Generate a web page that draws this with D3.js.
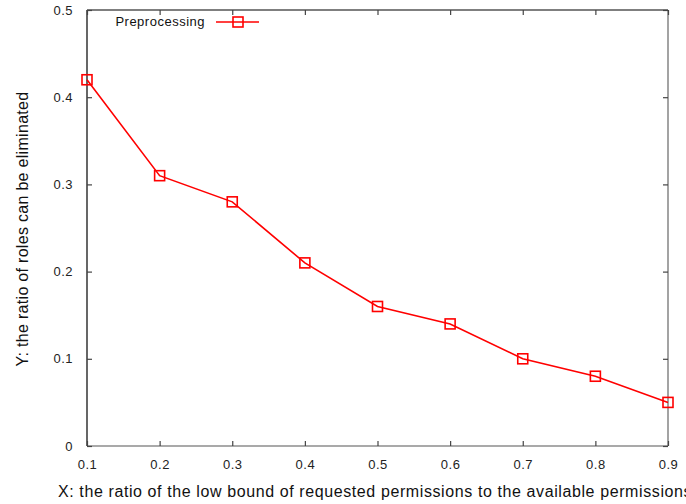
<!DOCTYPE html>
<html>
<head>
<meta charset="utf-8">
<script src="https://cdn.jsdelivr.net/npm/d3@7"></script>
<style>
  html, body { margin: 0; padding: 0; background: #fff; overflow: hidden; }
  svg { display: block; font-family: "Liberation Sans", Arial, sans-serif; }
</style>
</head>
<body>
<svg id="chart" width="686" height="504"></svg>
<script>
// Ratio of the low bound of requested permissions
const xValues = [0.1, 0.2, 0.3, 0.4, 0.5, 0.6, 0.7, 0.8, 0.9];
// Ratio of roles that can be eliminated after preprocessing
const preprocessing = [0.42, 0.31, 0.28, 0.21, 0.16, 0.14, 0.10, 0.08, 0.05];
const xTicks = [0.1, 0.2, 0.3, 0.4, 0.5, 0.6, 0.7, 0.8, 0.9];
const yTicks = [0, 0.1, 0.2, 0.3, 0.4, 0.5];
const seriesName = "Preprocessing";

const svg = d3.select("#chart");
const m = { left: 87, top: 10, right: 668, bottom: 446 };
const x = d3.scaleLinear().domain([0.1, 0.9]).range([m.left, m.right]);
const y = d3.scaleLinear().domain([0, 0.5]).range([m.bottom, m.top]);
const red = "#ff0000";
const tickLen = 5;

// Frame
const frame = svg.append("g");
frame.append("line").attr("x1", m.left).attr("x2", m.right).attr("y1", m.bottom).attr("y2", m.bottom).attr("stroke", "#555").attr("stroke-width", 1.2);
frame.append("line").attr("x1", m.right).attr("x2", m.right).attr("y1", m.top).attr("y2", m.bottom).attr("stroke", "#666").attr("stroke-width", 1.2);
frame.append("line").attr("x1", m.left).attr("x2", m.right).attr("y1", m.top).attr("y2", m.top).attr("stroke", "#000").attr("stroke-width", 1.2);
frame.append("line").attr("x1", m.left).attr("x2", m.left).attr("y1", m.top).attr("y2", m.bottom).attr("stroke", "#000").attr("stroke-width", 1.2);

// Inward ticks on all four sides
const bottomAxis = d3.axisBottom(x).tickValues(xTicks).tickSize(-tickLen).tickPadding(14).tickFormat(d3.format(".1f"));
const topAxis = d3.axisTop(x).tickValues(xTicks).tickSize(-tickLen).tickFormat("");
const leftAxis = d3.axisLeft(y).tickValues(yTicks).tickSize(-tickLen).tickPadding(14).tickFormat(d => d === 0 ? "0" : d3.format(".1f")(d));
const rightAxis = d3.axisRight(y).tickValues(yTicks).tickSize(-tickLen).tickFormat("");

function styleAxis(g) {
  g.select(".domain").remove();
  g.selectAll(".tick line").attr("stroke", "#444").attr("stroke-width", 1.2);
  g.selectAll(".tick text").attr("fill", "#222")
    .style("font-size", "13px")
    .style("letter-spacing", "0.5px")
    .style("font-family", "Liberation Sans, Arial, sans-serif");
}
svg.append("g").attr("transform", `translate(0,${m.bottom})`).call(bottomAxis).call(styleAxis);
svg.append("g").attr("transform", `translate(0,${m.top})`).call(topAxis).call(styleAxis);
svg.append("g").attr("transform", `translate(${m.left},0)`).call(leftAxis).call(styleAxis);
svg.append("g").attr("transform", `translate(${m.right},0)`).call(rightAxis).call(styleAxis);

// Axis titles
svg.append("text")
  .attr("x", 58).attr("y", 497)
  .attr("fill", "#111")
  .style("font-size", "16px")
  .style("letter-spacing", "0.6px")
  .text("X: the ratio of the low bound of requested permissions to the available permissions");
svg.append("text")
  .attr("transform", "translate(28,229) rotate(-90)")
  .attr("text-anchor", "middle")
  .attr("fill", "#111")
  .style("font-size", "16px")
  .style("letter-spacing", "0.3px")
  .text("Y: the ratio of roles can be eliminated");

// Series line and square markers
const points = xValues.map((v, i) => [v, preprocessing[i]]);
svg.append("path")
  .datum(points)
  .attr("fill", "none")
  .attr("stroke", red)
  .attr("stroke-width", 1.6)
  .attr("d", d3.line().x(d => x(d[0])).y(d => y(d[1])));

const ms = 10;
svg.append("g").selectAll("rect")
  .data(points)
  .join("rect")
  .attr("x", d => x(d[0]) - ms / 2)
  .attr("y", d => y(d[1]) - ms / 2)
  .attr("width", ms).attr("height", ms)
  .attr("fill", "none")
  .attr("stroke", red)
  .attr("stroke-width", 1.6);

// Legend
const legend = svg.append("g");
legend.append("text")
  .attr("x", 205).attr("y", 26)
  .attr("text-anchor", "end")
  .attr("fill", "#111")
  .style("font-size", "13px")
  .style("letter-spacing", "0.5px")
  .text(seriesName);
legend.append("line").attr("x1", 216).attr("x2", 259).attr("y1", 22).attr("y2", 22).attr("stroke", red).attr("stroke-width", 1.6);
legend.append("rect").attr("x", 238 - ms / 2).attr("y", 22 - ms / 2).attr("width", ms).attr("height", ms).attr("fill", "none").attr("stroke", red).attr("stroke-width", 1.6);
</script>
</body>
</html>
